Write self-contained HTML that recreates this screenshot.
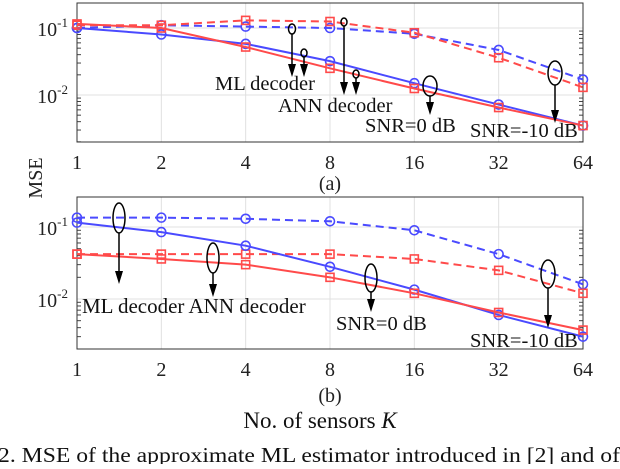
<!DOCTYPE html>
<html><head><meta charset="utf-8"><style>
body{margin:0;background:#fff;width:620px;height:464px;overflow:hidden}
svg{font-family:"Liberation Serif",serif}
</style></head><body>
<svg id="c" width="620" height="464"></svg>
<script>
const kVals=[1,2,4,8,16,32,64];
const xTickLabels=["1","2","4","8","16","32","64"];
const aBlueDash=[0.10,0.11,0.105,0.10,0.082,0.047,0.017];
const aRedDash=[0.11,0.11,0.13,0.125,0.085,0.036,0.013];
const aBlueSolid=[0.10,0.08,0.058,0.032,0.015,0.0072,0.0035];
const aRedSolid=[0.115,0.10,0.052,0.025,0.0125,0.0065,0.0035];
const bBlueDash=[0.135,0.135,0.13,0.12,0.09,0.042,0.016];
const bRedDash=[0.042,0.042,0.042,0.042,0.036,0.025,0.012];
const bBlueSolid=[0.115,0.085,0.055,0.028,0.0135,0.006,0.003];
const bRedSolid=[0.042,0.036,0.030,0.020,0.012,0.0065,0.0037];
const NS="http://www.w3.org/2000/svg";
const svg=document.getElementById('c');
function mk(t,a,p){const e=document.createElementNS(NS,t);for(const k in a)e.setAttribute(k,a[k]);(p||svg).appendChild(e);return e;}
const X0=77,X1=583;
const xs=k=>X0+(Math.log2(k))/6*(X1-X0);
const BLUE="#4a4aff",RED="#ff4a4a";
function panel(name,top,bot,y1,y2,series,label,labY){
  const g=mk('g',{});
  
  
  const ys=v=>y1+(-1-Math.log10(v))*(y2-y1);
  kVals.forEach(k=>{const l=mk('line',{x1:xs(k),x2:xs(k),y1:top,y2:bot,stroke:'#e0e0e0'},g);});
  for(let d=-1;d>=-3;d--){const yy=ys(Math.pow(10,d));if(yy>top&&yy<bot){const l=mk('line',{x1:X0,x2:X1,y1:yy,y2:yy,stroke:'#e0e0e0'},g);}
    for(let m=2;m<10;m++){const yy2=ys(m*Math.pow(10,d-1));if(yy2>top&&yy2<bot){mk('line',{x1:X0,x2:X0+4,y1:yy2,y2:yy2,stroke:'#444'},g);mk('line',{x1:X1,x2:X1-4,y1:yy2,y2:yy2,stroke:'#444'},g);}}}
  const box=mk('rect',{x:X0,y:top,width:X1-X0,height:bot-top,fill:'none',stroke:'#333','stroke-width':1},g);
  
  [-1,-2].forEach(d=>{const yy=ys(Math.pow(10,d));
    const t=mk('text',{x:68,y:yy+8,'font-size':20,'text-anchor':'end',fill:'#222'},g);t.textContent='10';
    const s=mk('tspan',{dy:-9,'font-size':13},t);s.textContent=String(d);
    });
  kVals.forEach((k,i)=>{const t=mk('text',{x:xs(k),y:bot+27,'font-size':20,'text-anchor':'middle',fill:'#222'},g);t.textContent=xTickLabels[i];
    });
  const lt=mk('text',{x:(X0+X1)/2,y:labY,'font-size':20,'text-anchor':'middle',fill:'#222'},g);lt.textContent=label;
  
  series.forEach(s=>{
    const pts=s.v.map((v,i)=>xs(kVals[i])+','+ys(v)).join(' ');
    const pl=mk('polyline',{points:pts,fill:'none',stroke:s.c,'stroke-width':2,'stroke-dasharray':s.d?'8,5':'none'},g);
    
    s.v.forEach((v,i)=>{let m;
      if(s.m==='o')m=mk('circle',{cx:xs(kVals[i]),cy:ys(v),r:4.5,fill:'none',stroke:s.c,'stroke-width':1.6},g);
      else m=mk('rect',{x:xs(kVals[i])-4,y:ys(v)-4,width:8,height:8,fill:'none',stroke:s.c,'stroke-width':1.6},g);
      });
  });
  return g;
}
panel('panel-a',3,142,28,95,[
 {v:aBlueDash,c:BLUE,d:1,m:'o',n:'ann-snr-10-line'},{v:aRedDash,c:RED,d:1,m:'s',n:'ml-snr-10-line'},
 {v:aBlueSolid,c:BLUE,d:0,m:'o',n:'ann-snr0-line'},{v:aRedSolid,c:RED,d:0,m:'s',n:'ml-snr0-line'}],'(a)',190);
panel('panel-b',197,349,227,299,[
 {v:bBlueDash,c:BLUE,d:1,m:'o',n:'ann-snr-10-line'},{v:bRedDash,c:RED,d:1,m:'s',n:'ml-snr-10-line'},
 {v:bBlueSolid,c:BLUE,d:0,m:'o',n:'ann-snr0-line'},{v:bRedSolid,c:RED,d:0,m:'s',n:'ml-snr0-line'}],'(b)',402);
function ann(cx,cy,rx,ry,y2){const g=mk('g',{});
  mk('ellipse',{cx,cy,rx,ry,fill:'none',stroke:'#000','stroke-width':1.5},g);
  mk('line',{x1:cx,x2:cx,y1:cy+ry,y2:y2-6,stroke:'#000','stroke-width':1.5},g);
  mk('polygon',{points:`${cx-4},${y2-13} ${cx+4},${y2-13} ${cx},${y2}`,fill:'#000'},g);}
function txt(x,y,s,n,fs){const t=mk('text',{x,y,'font-size':fs||21,fill:'#111'});t.textContent=s;}
ann(292,29,3.5,5,77);ann(304,53,3,4,77);ann(344,22,3,4,95);ann(356,74,3,4,95);
ann(430,86,7,10,115);ann(555,73,7,12,123);
txt(215,90,'ML decoder','ml-decoder-label',20.5);txt(278,112,'ANN decoder','ann-decoder-label',20.5);
txt(365,132,'SNR=0 dB','snr0-label',20.5);txt(470,137,'SNR=-10 dB','snr-10-label',20.5);
ann(119,218,6,15,284);ann(213,258,6,15,297);ann(371,278,6,14,312);ann(548,274,7,14,328);
txt(82,313,'ML decoder ANN decoder','decoder-labels-b');txt(336,330,'SNR=0 dB','snr0-label-b',20.5);txt(470,347,'SNR=-10 dB','snr-10-label-b',20.5);
const ya=mk('text',{x:0,y:0,'font-size':20,'text-anchor':'middle',fill:'#222',transform:'translate(42,178) rotate(-90)'});ya.textContent='MSE';

const xa=mk('text',{x:320,y:428,'font-size':23,'text-anchor':'middle',fill:'#111'});xa.textContent='No. of sensors ';
const kt=mk('tspan',{'font-style':'italic'},xa);kt.textContent='K';

const cap=mk('text',{x:-2,y:462,'font-size':21,fill:'#111',textLength:622,lengthAdjust:'spacingAndGlyphs'});cap.textContent='2.  MSE of the approximate ML estimator introduced in [2] and of';

</script>
</body></html>
